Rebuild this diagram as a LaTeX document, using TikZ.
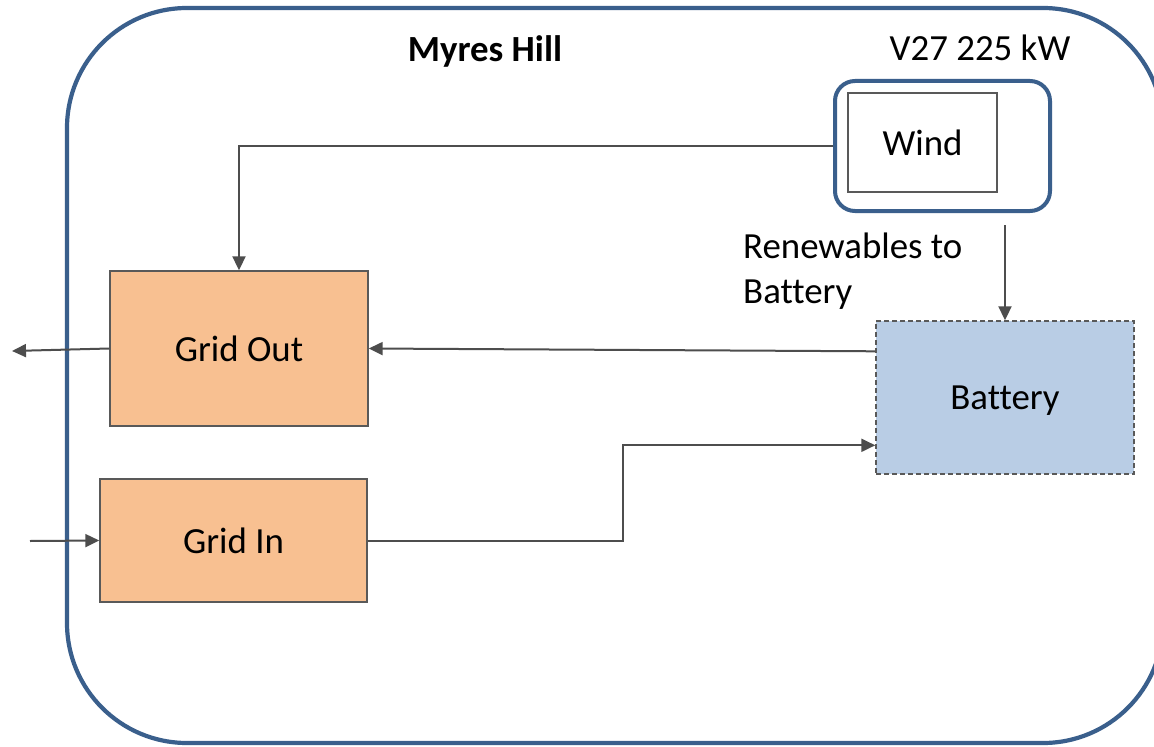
\documentclass[tikz,border=0pt]{standalone}
\usepackage{fontspec}
\setmainfont{Carlito}[Ligatures=NoCommon]
\usetikzlibrary{arrows.meta}
\definecolor{frame}{RGB}{58,95,140}
\definecolor{conn}{RGB}{77,77,77}
\definecolor{boxline}{RGB}{89,89,89}
\definecolor{orangefill}{RGB}{248,192,145}
\definecolor{bluefill}{RGB}{185,205,229}
\tikzset{
  txt/.style={font=\fontsize{37}{45}\selectfont, text=black},
  block/.style={txt, draw=boxline, line width=1.4bp, inner sep=0pt},
  gridbox/.style={block, fill=orangefill},
  storebox/.style={block, fill=bluefill, dashed, dash pattern=on 5bp off 3bp},
  sitebox/.style={draw=frame, line width=4bp, rounded corners=20bp, inner sep=0pt},
  link/.style={draw=conn, line width=2bp, -{Triangle[length=14bp,width=13bp]}}
}
\begin{document}
\begin{tikzpicture}[x=1bp,y=-1bp]
\useasboundingbox (0,0) rectangle (1154,747);
\fill[white] (0,0) rectangle (1154,747);
\begin{scope}
  \clip (0,0) rectangle (1154,747);
  % site boundary
  \draw[frame, line width=4.2bp, rounded corners=120bp] (67,8) rectangle (1163,743);
\end{scope}

\node[txt, font=\fontsize{37}{45}\selectfont\bfseries, text depth=0pt] (site) at (485,49) {Myres Hill};
\node[txt] (turbine) at (980,48) {V27 225 kW};

% wind turbine
\node[sitebox, minimum width=215bp, minimum height=130bp] (windframe) at (942.5,146) {};
\node[block, minimum width=149bp, minimum height=99bp] (wind) at (922.5,142.5) {Wind};

% blocks
\node[gridbox, minimum width=258bp, minimum height=155bp] (gout) at (239,348.5) {Grid Out};
\node[gridbox, minimum width=267bp, minimum height=123bp] (gin) at (233.5,540.5) {Grid In};
\node[storebox, minimum width=258bp, minimum height=153bp, text depth=0pt] (batt) at (1005,397.5) {Battery};

\node[txt, align=left, anchor=north west, inner sep=0pt] (renew) at (743,233) {Renewables to\\Battery};

\coordinate (export) at (12,351);
\coordinate (import) at (30,541);
\coordinate (renewsrc) at (1005,225);

% connectors
\draw[link] (windframe.west) -| (gout.north);
\draw[link] (renewsrc) -- (batt.north);
\draw[link] ([yshift=-31bp]batt.north west) -- (gout.east);
\draw[link] (gout.west) -- (export);
\draw[link] (import) -- (gin.west);
\draw[link] (gin.east) -- ++(255,0) |- ([yshift=-125bp]batt.north west);
\end{tikzpicture}
\end{document}
